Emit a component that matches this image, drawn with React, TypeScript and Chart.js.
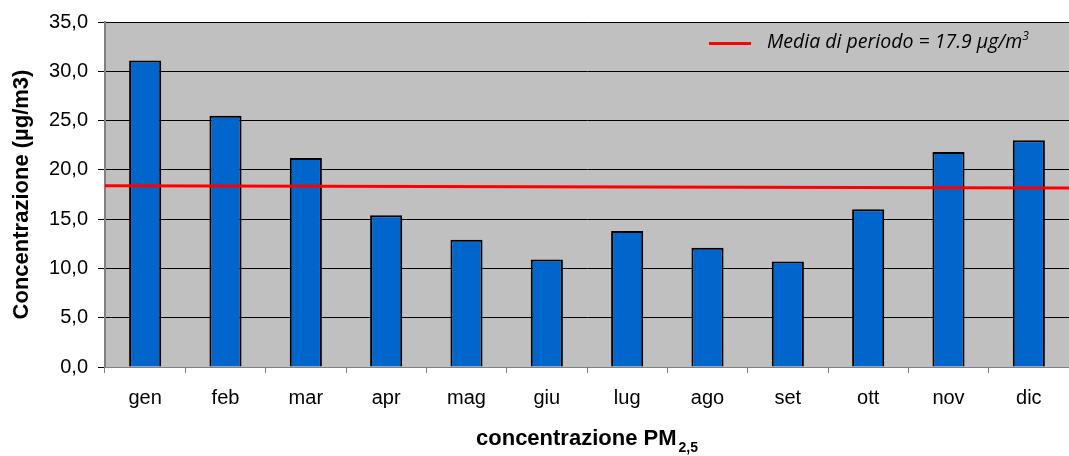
import React, { useEffect, useRef } from "react";
import { Chart, registerables } from "chart.js";

Chart.register(...registerables);

const months = ["gen", "feb", "mar", "apr", "mag", "giu", "lug", "ago", "set", "ott", "nov", "dic"];
const pm25 = [31.1, 25.5, 21.2, 15.4, 12.9, 10.9, 13.8, 12.1, 10.7, 16.0, 21.8, 23.0];
const meanLineX = [0, 1];
const meanLineY = [18.4, 18.15];
const meanLabelMain = "Media di periodo = 17.9 \u00b5g/m";
const meanLabelSup = "3";
const yTicks = { min: 0, max: 35, step: 5 };

const plotBg = {
  id: "plotBg",
  beforeDraw(chart: any) {
    const { ctx, chartArea } = chart;
    ctx.save();
    ctx.fillStyle = "#C0C0C0";
    ctx.fillRect(chartArea.left, chartArea.top, chartArea.right - chartArea.left, chartArea.bottom - chartArea.top);
    ctx.strokeStyle = "#808080";
    ctx.lineWidth = 1;
    ctx.strokeRect(chartArea.left + 0.5, chartArea.top + 0.5, chartArea.right - chartArea.left, chartArea.bottom - chartArea.top);
    ctx.restore();
  },
};

export default function App() {
  const ref = useRef<HTMLCanvasElement>(null);
  useEffect(() => {
    const chart = new Chart(ref.current!, {
      type: "bar",
      data: {
        labels: months,
        datasets: [
          {
            type: "bar",
            label: "PM2,5",
            data: pm25,
            backgroundColor: "#0066CC",
            borderColor: "#000000",
            borderWidth: 2,
            categoryPercentage: 1,
            barPercentage: 0.4,
            grouped: false,
            order: 2,
          } as any,
          {
            type: "line",
            label: meanLabelMain + meanLabelSup,
            data: meanLineX.map((x, i) => ({ x, y: meanLineY[i] })),
            xAxisID: "x2",
            borderColor: "#FF0000",
            backgroundColor: "#FF0000",
            borderWidth: 3,
            pointRadius: 0,
            order: 0,
          } as any,
        ],
      },
      options: {
        animation: false,
        responsive: false,
        maintainAspectRatio: false,
        layout: { padding: { top: 21, left: 0, right: 0, bottom: 0 } },
        plugins: {
          tooltip: { enabled: false },
          legend: { display: false },
        },
        scales: {
          x: {
            offset: true,
            grid: { offset: true, drawOnChartArea: false, tickLength: 6, color: "#808080" },
            border: { color: "#808080", width: 1 },
            ticks: { color: "#000", padding: 13, font: { family: "Liberation Sans", size: 20 } },
            afterFit: (s: any) => { s.height = 89; },
          },
          x2: {
            type: "linear",
            display: false,
            offset: false,
            min: 0,
            max: 1,
          },
          y: {
            min: yTicks.min,
            max: yTicks.max,
            ticks: {
              stepSize: yTicks.step,
              color: "#000",
              padding: 10,
              font: { family: "Liberation Sans", size: 20 },
              callback: (v: any) => Number(v).toFixed(1).replace(".", ","),
            },
            grid: { color: "#000000", lineWidth: 1, tickLength: 7 },
            border: { color: "#808080", width: 2 },
            title: {
              display: true,
              text: "Concentrazione (\u00b5g/m3)",
              color: "#000",
              font: { family: "Liberation Sans", size: 22, weight: "bold" },
              padding: { top: 9, bottom: 0 },
            },
            afterFit: (s: any) => { s.width = 105; },
          },
        },
      },
      plugins: [plotBg],
    });
    return () => chart.destroy();
  }, []);
  return (
    <div style={{ position: "fixed", left: 0, top: 0, width: 1069, height: 456, background: "#fff", overflow: "hidden" }}>
      <canvas ref={ref} width={1069} height={456} style={{ display: "block" }} />
      <div
        style={{
          position: "absolute",
          left: 709,
          top: 42,
          width: 42,
          height: 3,
          background: "#FF0000",
        }}
      />
      <div
        style={{
          position: "absolute",
          left: 767,
          top: 29,
          lineHeight: "24px",
          whiteSpace: "nowrap",
          fontFamily: "Open Sans",
          fontStyle: "italic",
          fontSize: 19.5,
          color: "#000",
        }}
      >
        {meanLabelMain}
        <span style={{ fontSize: 12, position: "relative", top: -8 }}>{meanLabelSup}</span>
      </div>
      <div
        style={{
          position: "absolute",
          left: 105,
          width: 964,
          top: 425,
          lineHeight: "26px",
          textAlign: "center",
          whiteSpace: "nowrap",
          fontFamily: "Liberation Sans",
          fontWeight: "bold",
          fontSize: 22,
          color: "#000",
        }}
      >
        concentrazione PM
        <span style={{ fontSize: 14, position: "relative", top: 7, marginLeft: 2 }}>2,5</span>
      </div>
    </div>
  );
}
